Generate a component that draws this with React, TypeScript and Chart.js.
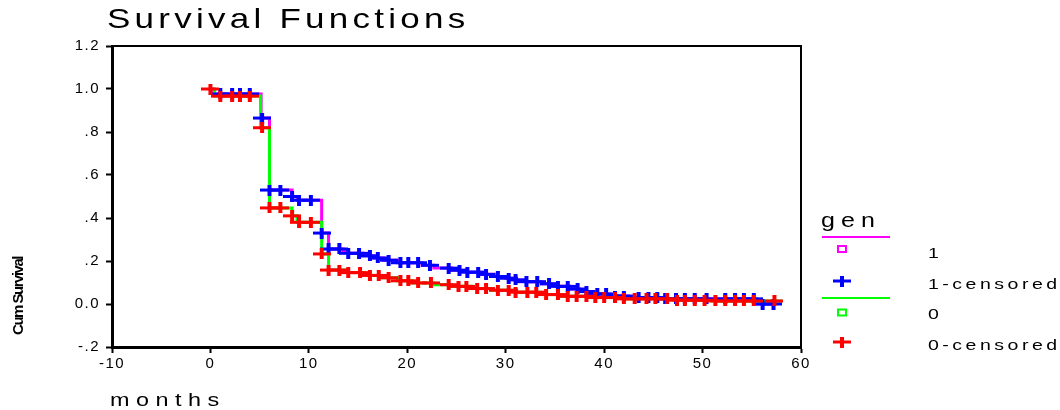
import React, { useEffect, useRef } from 'react';
import { Chart, registerables } from 'chart.js';

Chart.register(...registerables);

// ---- axis ticks ----
const xTickValues = [-10, 0, 10, 20, 30, 40, 50, 60];
const xTickLabels = ['-10', '0', '10', '20', '30', '40', '50', '60'];
const yTickValues = [-0.2, 0, 0.2, 0.4, 0.6, 0.8, 1.0, 1.2];
const yTickLabels = ['-.2', '0.0', '.2', '.4', '.6', '.8', '1.0', '1.2'];

// ---- gen = 1 : survival step function ----
const gen1Times = [0, 0.3, 5.15, 6.0, 8.3, 8.8, 11.3, 12.0, 13.5, 14.0, 15.5, 16.6, 17.6, 19.0, 21.5, 22.7, 24.5, 26.0, 27.6, 29.0, 30.0, 31.0, 32.0, 33.6, 35.0, 36.5, 37.5, 39.0, 40.5, 42.5, 46.0, 55.5, 57.3];
const gen1Survival = [1.0, 0.977, 0.865, 0.53, 0.5, 0.483, 0.33, 0.256, 0.247, 0.236, 0.224, 0.214, 0.204, 0.192, 0.18, 0.167, 0.157, 0.148, 0.138, 0.128, 0.12, 0.112, 0.104, 0.094, 0.082, 0.07, 0.058, 0.047, 0.037, 0.03, 0.024, 0.0, 0.0];
const gen1CensoredTimes = [1.0, 2.2, 3.0, 4.0, 5.25, 6.0, 7.1, 8.3, 9.0, 10.2, 11.3, 12.0, 13.1, 14.0, 15.1, 16.2, 17.0, 18.1, 19.3, 20.1, 21.1, 22.3, 24.2, 25.3, 26.1, 27.2, 28.0, 29.2, 30.3, 31.0, 32.1, 33.2, 34.4, 35.3, 36.3, 37.3, 38.2, 39.3, 40.2, 41.1, 42.0, 43.5, 44.5, 45.4, 46.2, 47.3, 48.2, 49.2, 50.4, 52.3, 53.3, 54.2, 55.2, 56.1, 57.2];

// ---- gen = 0 : survival step function ----
const gen0Times = [0, 0.4, 5.1, 6.0, 8.3, 8.8, 11.3, 12.0, 13.6, 15.6, 17.5, 19.0, 20.5, 22.7, 24.5, 26.5, 28.5, 31.0, 33.5, 35.5, 38.5, 42.0, 47.0, 51.0, 58.1];
const gen0Survival = [1.0, 0.967, 0.82, 0.447, 0.41, 0.38, 0.233, 0.158, 0.146, 0.133, 0.122, 0.108, 0.098, 0.09, 0.082, 0.072, 0.064, 0.055, 0.044, 0.036, 0.03, 0.024, 0.018, 0.014, 0.014];
const gen0CensoredTimes = [0, 1.0, 2.2, 3.0, 4.0, 5.25, 6.0, 7.1, 8.3, 9.0, 10.2, 11.3, 12.0, 13.1, 14.0, 15.2, 16.2, 17.1, 18.1, 19.3, 20.1, 21.1, 22.4, 24.2, 25.2, 26.0, 27.1, 28.0, 29.2, 30.3, 31.0, 32.2, 33.1, 34.1, 35.3, 36.3, 37.2, 38.2, 39.1, 40.0, 41.1, 42.0, 43.1, 44.3, 45.2, 46.4, 47.4, 48.2, 49.2, 50.2, 51.3, 52.3, 53.3, 54.2, 55.2, 57.3];

const MAGENTA = '#FF00FF';
const BLUE = '#0000FF';
const GREEN = '#00FF00';
const RED = '#FF0000';
const FONT = '"Liberation Sans", Arial, Helvetica, sans-serif';

function survivalAt(times: number[], surv: number[], t: number): number {
  let s = surv[0];
  for (let i = 0; i < times.length; i++) {
    if (times[i] <= t + 1e-9) s = surv[i];
  }
  return s;
}

function makeCross(color: string): HTMLCanvasElement {
  const c = document.createElement('canvas');
  c.width = 18;
  c.height = 11;
  const g = c.getContext('2d')!;
  g.fillStyle = color;
  g.fillRect(0, 4, 18, 3);
  g.fillRect(7, 0, 4, 11);
  return c;
}

function drawText(
  ctx: CanvasRenderingContext2D,
  text: string,
  x: number,
  y: number,
  font: string,
  spacing: number,
  sx = 1,
  align: CanvasTextAlign = 'left',
  baseline: CanvasTextBaseline = 'alphabetic'
) {
  ctx.save();
  ctx.translate(x, y);
  ctx.scale(sx, 1);
  ctx.font = font;
  (ctx as any).letterSpacing = spacing + 'px';
  ctx.textAlign = align;
  ctx.textBaseline = baseline;
  ctx.fillStyle = '#000';
  ctx.fillText(text, 0, 0);
  ctx.restore();
}

export default function App() {
  const ref = useRef<HTMLCanvasElement>(null);

  useEffect(() => {
    if (!ref.current) return;
    const blueCross = makeCross(BLUE);
    const redCross = makeCross(RED);

    const decorPlugin = {
      id: 'decor',
      beforeDraw(chart: any) {
        (chart.ctx as any).letterSpacing = '1.5px';
      },
      afterDraw(chart: any) {
        const ctx: CanvasRenderingContext2D = chart.ctx;
        (ctx as any).letterSpacing = '0px';
        const a = chart.chartArea;
        // frame top/right
        ctx.save();
        ctx.strokeStyle = '#000';
        ctx.lineWidth = 2;
        ctx.beginPath();
        ctx.moveTo(a.left, a.top);
        ctx.lineTo(a.right, a.top);
        ctx.lineTo(a.right, a.bottom);
        ctx.stroke();
        ctx.restore();

        // title
        drawText(ctx, 'Survival Functions', 107, 28, `28px ${FONT}`, 3.4, 1.25);
        // x title
        drawText(ctx, 'months', 110, 406, `18px ${FONT}`, 5, 1.3);
        // y title (rotated)
        ctx.save();
        ctx.translate(19, 296);
        ctx.rotate(-Math.PI / 2);
        drawText(ctx, 'Cum Survival', 0, 0, `bold 15px ${FONT}`, -1.5, 1, 'center', 'middle');
        ctx.restore();

        // legend
        drawText(ctx, 'gen', 821, 227, `20px ${FONT}`, 4.9, 1.25);
        const lx = 842;
        const tx = 928;
        const tf = `15px ${FONT}`;
        ctx.save();
        ctx.lineWidth = 2;
        ctx.strokeStyle = MAGENTA;
        ctx.beginPath();
        ctx.moveTo(822, 237);
        ctx.lineTo(890, 237);
        ctx.stroke();
        ctx.strokeRect(lx - 4, 246, 8, 6);
        ctx.strokeStyle = GREEN;
        ctx.beginPath();
        ctx.moveTo(822, 298);
        ctx.lineTo(890, 298);
        ctx.stroke();
        ctx.strokeRect(lx - 4, 309.5, 8, 6);
        ctx.drawImage(blueCross, lx - 9, 281 - 5.5);
        ctx.drawImage(redCross, lx - 9, 342 - 5.5);
        ctx.restore();
        drawText(ctx, '1', tx, 254, tf, 2.7, 1.3, 'left', 'middle');
        drawText(ctx, '1-censored', tx, 285, tf, 2.7, 1.3, 'left', 'middle');
        drawText(ctx, '0', tx, 315, tf, 2.7, 1.3, 'left', 'middle');
        drawText(ctx, '0-censored', tx, 346, tf, 2.7, 1.3, 'left', 'middle');
      },
    };

    const tickFont = { family: FONT, size: 15 };

    const chart = new Chart(ref.current, {
      type: 'scatter',
      data: {
        datasets: [
          {
            label: '1',
            data: gen1Times.map((t, i) => ({ x: t, y: gen1Survival[i] })),
            showLine: true,
            stepped: 'before',
            borderColor: MAGENTA,
            backgroundColor: MAGENTA,
            borderWidth: 3,
            pointRadius: 0,
            order: 4,
          } as any,
          {
            label: '0',
            data: gen0Times.map((t, i) => ({ x: t, y: gen0Survival[i] })),
            showLine: true,
            stepped: 'before',
            borderColor: GREEN,
            backgroundColor: GREEN,
            borderWidth: 3,
            pointRadius: 0,
            order: 3,
          } as any,
          {
            label: '1-censored',
            data: gen1CensoredTimes.map((t) => ({ x: t, y: survivalAt(gen1Times, gen1Survival, t) })),
            showLine: false,
            pointStyle: blueCross,
            pointRadius: 6,
            order: 2,
          } as any,
          {
            label: '0-censored',
            data: gen0CensoredTimes.map((t) => ({ x: t, y: survivalAt(gen0Times, gen0Survival, t) })),
            showLine: false,
            pointStyle: redCross,
            pointRadius: 6,
            order: 1,
          } as any,
        ],
      },
      options: {
        responsive: false,
        animation: false,
        events: [],
        layout: { padding: { top: 46, right: 259, left: 0, bottom: 0 } },
        plugins: {
          legend: { display: false },
          tooltip: { enabled: false },
          title: { display: false },
        },
        scales: {
          x: {
            type: 'linear',
            min: -10,
            max: 60,
            afterBuildTicks: (s: any) => {
              s.ticks = xTickValues.map((v) => ({ value: v }));
            },
            afterFit: (s: any) => {
              s.height = 63;
            },
            ticks: {
              callback: (_v: any, i: number) => xTickLabels[i],
              font: tickFont,
              color: '#000',
              padding: 2,
              maxRotation: 0,
              autoSkip: false,
            },
            grid: { drawOnChartArea: false, drawTicks: true, tickLength: 6, tickColor: '#000', tickWidth: 2 },
            border: { display: true, color: '#000', width: 3 },
          },
          y: {
            type: 'linear',
            min: -0.2,
            max: 1.2,
            afterBuildTicks: (s: any) => {
              s.ticks = yTickValues.map((v) => ({ value: v }));
            },
            afterFit: (s: any) => {
              s.width = 112;
            },
            ticks: {
              callback: (_v: any, i: number) => yTickLabels[i],
              font: tickFont,
              color: '#000',
              padding: 6,
              autoSkip: false,
            },
            grid: { drawOnChartArea: false, drawTicks: true, tickLength: 6, tickColor: '#000', tickWidth: 2 },
            border: { display: true, color: '#000', width: 3 },
          },
        },
      } as any,
      plugins: [decorPlugin],
    });

    return () => chart.destroy();
  }, []);

  return (
    <div style={{ position: 'fixed', left: 0, top: 0, width: 1060, height: 410, background: '#fff' }}>
      <canvas ref={ref} width={1060} height={410} style={{ display: 'block', width: 1060, height: 410 }} />
    </div>
  );
}
